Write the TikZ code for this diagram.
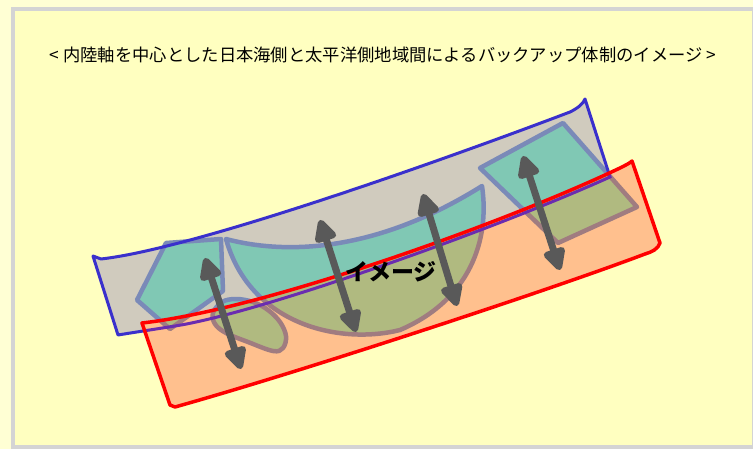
\documentclass[tikz,border=0pt]{standalone}
\usepackage{fontspec}
\newfontfamily\jp{Noto Sans CJK JP}
\usetikzlibrary{arrows.meta}
\definecolor{outerbg}{HTML}{FFFFD4}
\definecolor{innerbg}{HTML}{FFFFC0}
\definecolor{framegray}{HTML}{D4D4D4}
\definecolor{bandgray}{HTML}{D0CBBE}
\definecolor{bandorange}{HTML}{FFC08E}
\definecolor{bandblue}{HTML}{3A30CC}
\definecolor{bandpurple}{HTML}{6A2CB0}
\definecolor{cTeal}{HTML}{80C8B4}
\definecolor{cOlive}{HTML}{B0BA80}
\definecolor{cSteel}{HTML}{7A8AB8}
\definecolor{cMauve}{HTML}{A07C80}
\definecolor{arrowgray}{HTML}{595959}
\def\BluePath{(93,256) -- (101,259) .. controls (200,248) and (470,150) .. (570,112) .. controls (578,108) and (583,104) .. (585,99) -- (610,177) .. controls (495,229) and (260,313) .. (175,326) .. controls (150,330) and (130,333) .. (118,335) -- cycle}
\def\RedPath{(142,323) .. controls (260,310) and (500,225) .. (620,168) .. controls (626,165) and (630,163) .. (632,161) -- (660,243) .. controls (658,249) and (652,252) .. (645,254) .. controls (550,290) and (300,372) .. (175,407) -- (170,405) -- cycle}
\def\Pent{(166,243) -- (221,239) -- (223,291) -- (170,329) -- (137,300) -- cycle}
\def\Bowl{(226,239) .. controls (290,256) and (380,250) .. (482,186) .. controls (490,240) and (470,300) .. (400,330) .. controls (340,345) and (250,325) .. (226,239) -- cycle}
\def\Lobe{plot[smooth cycle,tension=0.6] coordinates {(213,313)(222,302)(236,299)(253,302)(268,310)(280,322)(286,336)(283,348)(273,351)(248,342)(226,333)(215,324)}}
\def\Quad{(480,168) -- (563,123) -- (637,207) -- (558,243) -- cycle}
\begin{document}
\begin{tikzpicture}[x=1pt,y=-1pt,
  tealshape/.style={fill=cTeal,draw=cSteel,line width=4.5pt,line join=round},
  oliveshape/.style={fill=cOlive,draw=cMauve,line width=4.5pt,line join=round},
  blueline/.style={draw=bandblue,line width=3pt,line join=round},
  redline/.style={draw=red,line width=3.5pt,line join=round},
  bigarrow/.style={draw=arrowgray,line width=7pt,
    {Triangle[length=26pt,width=24pt,round]}-{Triangle[length=26pt,width=24pt,round]}}]
\useasboundingbox (0,0) rectangle (753,449);
\fill[outerbg] (0,0) rectangle (753,449);
\fill[framegray] (11,7) rectangle (753,449);
\fill[innerbg] (15,11) rectangle (752,445);
% Japan Sea side band
\fill[bandgray] \BluePath;
\path[tealshape] \Pent;
\path[tealshape] \Bowl;
\path[tealshape] \Lobe;
\path[tealshape] \Quad;
\path[blueline] \BluePath;
% Pacific side band
\begin{scope}
  \clip \RedPath;
  \fill[bandorange] \RedPath;
  \path[oliveshape] \Pent;
  \path[oliveshape] \Bowl;
  \path[oliveshape] \Lobe;
  \path[oliveshape] \Quad;
  \path[draw=bandpurple,line width=3pt] \BluePath;
\end{scope}
\path[redline] \RedPath;
% arrows
\coordinate (a1t) at (205,258); \coordinate (a1b) at (241,369);
\coordinate (a2t) at (320,220); \coordinate (a2b) at (356,332);
\coordinate (a3t) at (423,194); \coordinate (a3b) at (457,306);
\coordinate (a4t) at (523,156); \coordinate (a4b) at (560,270);
\draw[bigarrow] (a1t) -- (a1b);
\draw[bigarrow] (a2t) -- (a2b);
\draw[bigarrow] (a3t) -- (a3b);
\draw[bigarrow] (a4t) -- (a4b);
% texts
\node[font=\jp\fontsize{17.3}{20}\selectfont,inner sep=0pt] (title) at (383,55) {< 内陸軸を中心とした日本海側と太平洋側地域間によるバックアップ体制のイメージ >};
\node[font=\jp\bfseries\fontsize{23}{26}\selectfont,inner sep=0pt] (img) at (391,272) {イメージ};
\end{tikzpicture}
\end{document}
